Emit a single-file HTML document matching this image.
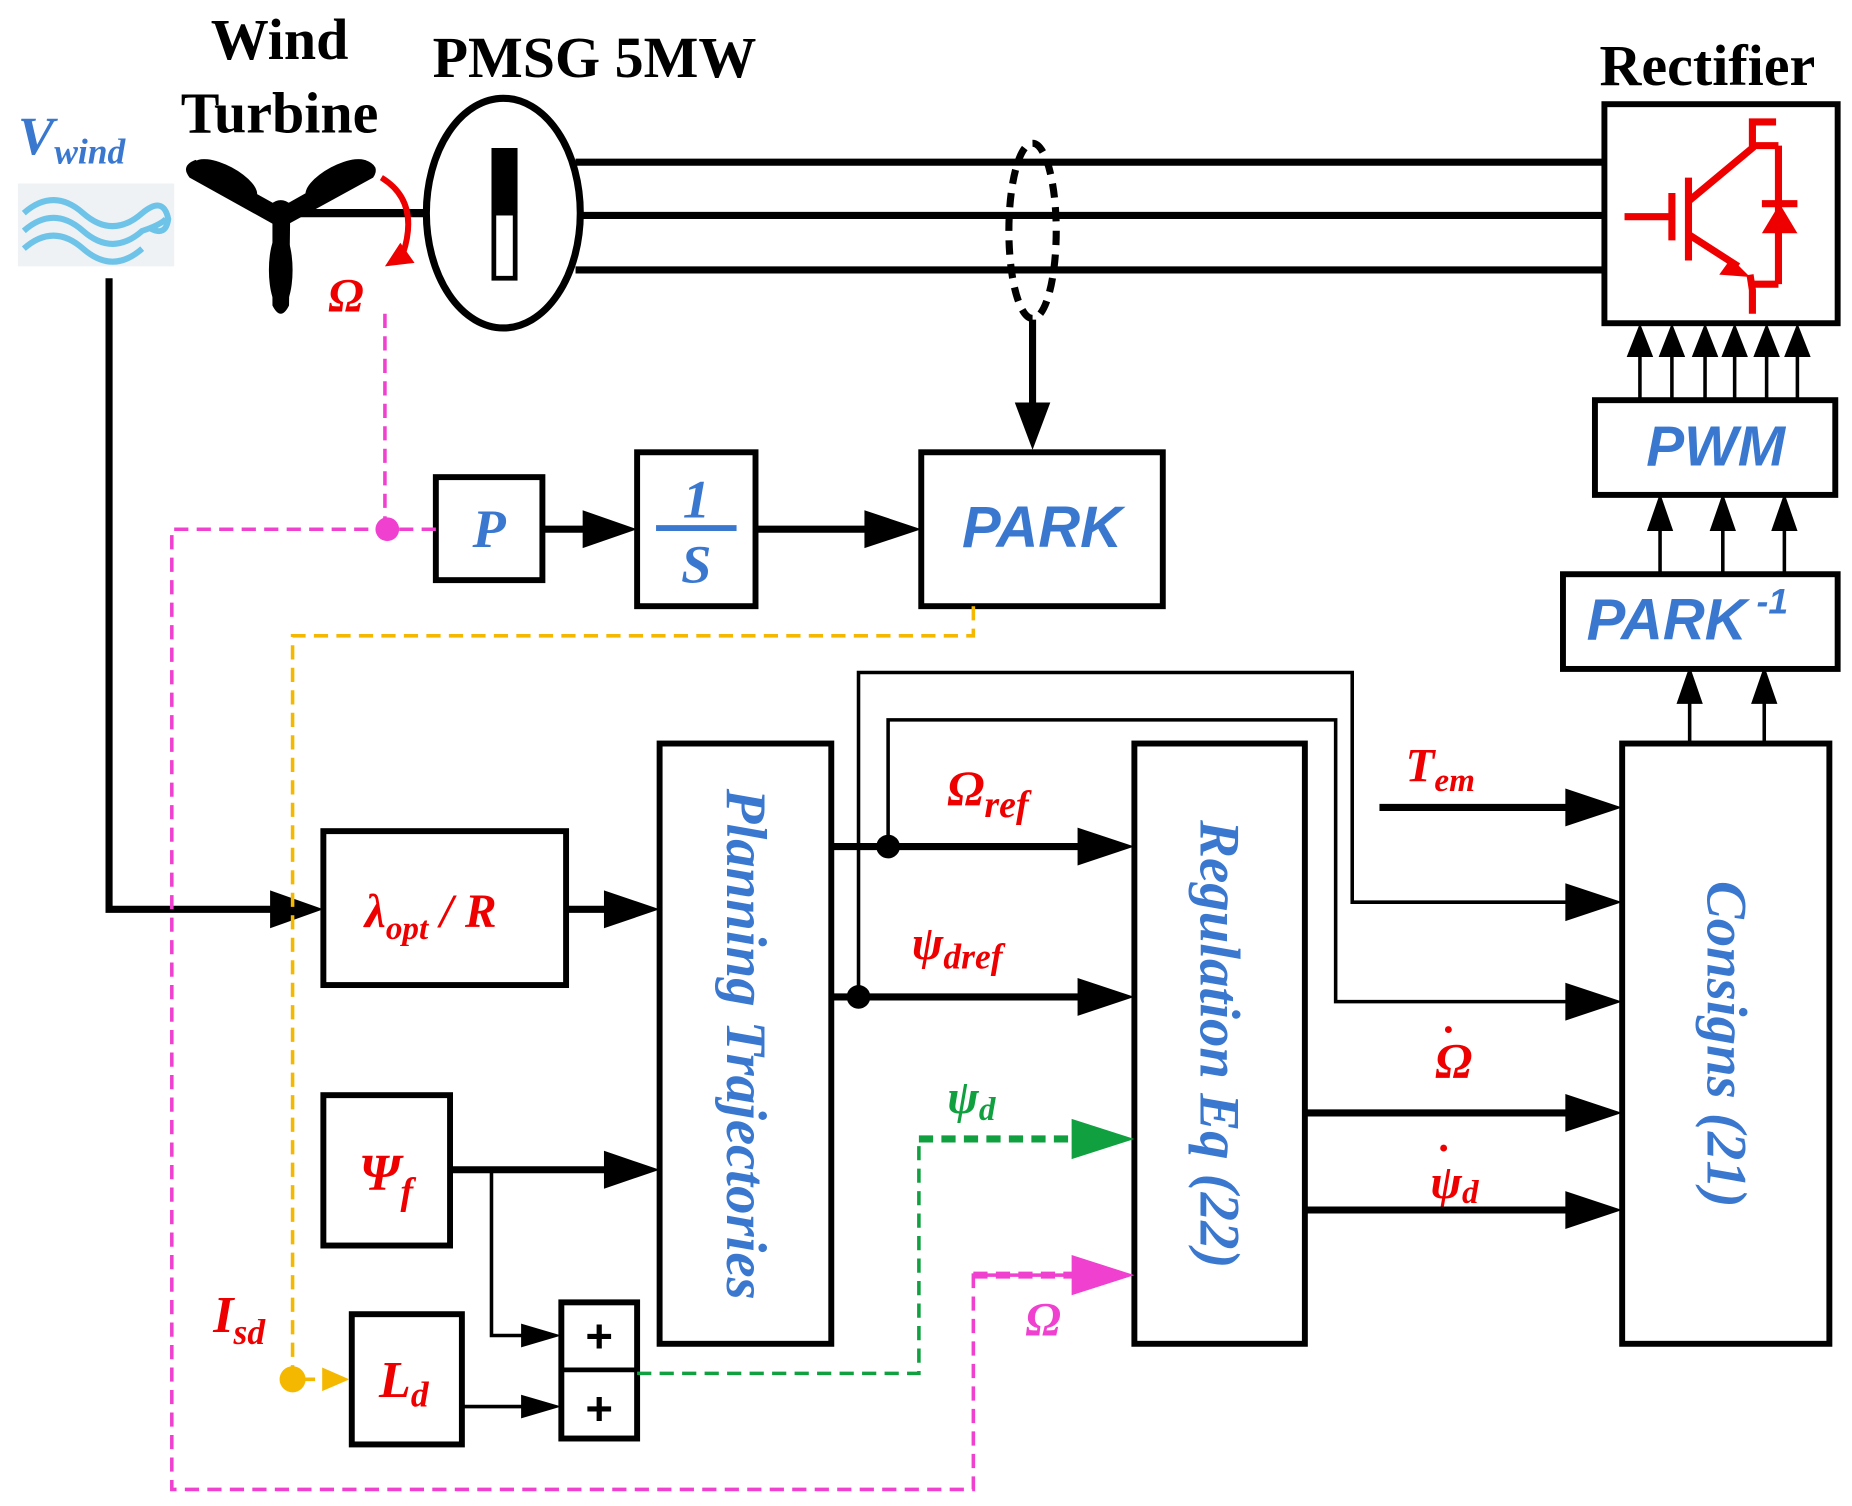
<!DOCTYPE html>
<html><head><meta charset="utf-8"><style>
html,body{margin:0;padding:0;background:#fff;}
svg{display:block;}
</style></head><body>
<svg width="1852" height="1506" viewBox="0 0 1564 1272" xmlns="http://www.w3.org/2000/svg">
<rect width="1564" height="1272" fill="#fff"/>
<g font-family="Liberation Serif, serif" font-weight="bold">
<text x="236" y="50" font-size="49" text-anchor="middle">Wind</text>
<text x="236" y="112" font-size="49" text-anchor="middle">Turbine</text>
<text x="502" y="65" font-size="49" text-anchor="middle">PMSG 5MW</text>
<text x="1442" y="72" font-size="49" text-anchor="middle">Rectifier</text>
</g>
<text x="15" y="130" font-family="Liberation Serif, serif" font-style="italic" font-weight="bold" font-size="46" fill="#3a78d0">V<tspan font-size="30" dy="8">wind</tspan></text>
<rect x="15" y="155" width="132" height="70" fill="#eef2f5"/>
<g fill="none" stroke="#6ec3e8" stroke-width="5">
<path d="M20 180 q25 -22 50 0 t50 0 q18 -15 22 5 q-2 15 -15 8"/>
<path d="M20 195 q25 -22 50 0 t50 0 q15 -5 20 -10"/>
<path d="M20 210 q25 -22 50 0 t50 0"/>
</g>
<!-- turbine -->
<g fill="#000">
<path d="M237 175 L165 135 Q152 140 160 150 L232 190 Z"/>
<ellipse cx="190" cy="152" rx="30" ry="12" transform="rotate(28 190 152)"/>
<path d="M237 175 L308 135 Q322 140 315 150 L242 190 Z"/>
<ellipse cx="285" cy="152" rx="30" ry="12" transform="rotate(-28 285 152)"/>
<path d="M230 180 L230 258 Q237 272 244 258 L245 180 Z"/>
<ellipse cx="237" cy="228" rx="10" ry="32"/>
<circle cx="237" cy="180" r="11"/>
</g>
<line x1="237" y1="180" x2="360" y2="180" stroke="#000" stroke-width="7"/>
<path d="M322 150 Q355 170 340 215" fill="none" stroke="#e00" stroke-width="5"/>
<path d="M325 225 L350 222 L338 205 Z" fill="#e00"/>
<text x="292" y="263" font-family="Liberation Serif, serif" font-style="italic" font-weight="bold" font-size="40" fill="#e00" text-anchor="middle">Ω</text>
<!-- generator -->
<ellipse cx="425" cy="180" rx="65" ry="97" fill="#fff" stroke="#000" stroke-width="6"/>
<rect x="415" y="125" width="22" height="55" fill="#000"/>
<rect x="417" y="180" width="18" height="55" fill="#fff" stroke="#000" stroke-width="4"/>
<g stroke="#000" stroke-width="6">
<line x1="486" y1="137" x2="1355" y2="137"/>
<line x1="490" y1="182" x2="1355" y2="182"/>
<line x1="486" y1="228" x2="1355" y2="228"/>
</g>
<ellipse cx="872" cy="195" rx="20" ry="74" fill="none" stroke="#000" stroke-width="6" stroke-dasharray="12 8"/>
<line x1="872" y1="270" x2="872" y2="345" stroke="#000" stroke-width="6"/>
<path d="M857 340 L887 340 L872 380 Z" fill="#000"/>
<!-- rectifier -->
<rect x="1355" y="88" width="197" height="185" fill="#fff" stroke="#000" stroke-width="5"/>
<g stroke="#e00" stroke-width="6" fill="none">
<line x1="1372" y1="183" x2="1412" y2="183"/>
<line x1="1412" y1="163" x2="1412" y2="203"/>
<line x1="1426" y1="150" x2="1426" y2="220"/>
<polyline points="1426,170 1480,125 1480,103 1500,103"/>
<line x1="1426" y1="198" x2="1468" y2="225"/>
<polyline points="1478,232 1480,245 1480,265"/>
<line x1="1480" y1="123" x2="1502" y2="123"/>
<line x1="1502" y1="123" x2="1502" y2="240"/>
<line x1="1480" y1="240" x2="1502" y2="240"/>
<line x1="1488" y1="172" x2="1518" y2="172"/>
</g>
<path d="M1462 218 L1478 234 L1452 232 Z" fill="#e00"/>
<path d="M1488 197 L1518 197 L1503 172 Z" fill="#e00"/>
<g stroke="#000" stroke-width="3" fill="#000">
<line x1="1385" y1="338" x2="1385" y2="295"/><path d="M1376 300 L1394 300 L1385 277 Z"/>
<line x1="1412" y1="338" x2="1412" y2="295"/><path d="M1403 300 L1421 300 L1412 277 Z"/>
<line x1="1440" y1="338" x2="1440" y2="295"/><path d="M1431 300 L1449 300 L1440 277 Z"/>
<line x1="1465" y1="338" x2="1465" y2="295"/><path d="M1456 300 L1474 300 L1465 277 Z"/>
<line x1="1492" y1="338" x2="1492" y2="295"/><path d="M1483 300 L1501 300 L1492 277 Z"/>
<line x1="1518" y1="338" x2="1518" y2="295"/><path d="M1509 300 L1527 300 L1518 277 Z"/>
<line x1="1402" y1="483" x2="1402" y2="440"/><path d="M1393 447 L1411 447 L1402 421 Z"/>
<line x1="1455" y1="483" x2="1455" y2="440"/><path d="M1446 447 L1464 447 L1455 421 Z"/>
<line x1="1507" y1="483" x2="1507" y2="440"/><path d="M1498 447 L1516 447 L1507 421 Z"/>
<line x1="1427" y1="627" x2="1427" y2="585"/><path d="M1418 593 L1436 593 L1427 567 Z"/>
<line x1="1490" y1="627" x2="1490" y2="585"/><path d="M1481 593 L1499 593 L1490 567 Z"/>
</g>
<g fill="#fff" stroke="#000" stroke-width="5">
<rect x="1347" y="338" width="203" height="80"/>
<rect x="1320" y="485" width="232" height="80"/>
<rect x="1370" y="628" width="175" height="507"/>
<rect x="368" y="403" width="90" height="87"/>
<rect x="538" y="382" width="100" height="130"/>
<rect x="778" y="382" width="204" height="130"/>
<rect x="273" y="702" width="205" height="130"/>
<rect x="557" y="628" width="145" height="507"/>
<rect x="958" y="628" width="144" height="507"/>
<rect x="273" y="925" width="107" height="127"/>
<rect x="297" y="1110" width="93" height="110"/>
<rect x="474" y="1100" width="64" height="115"/>
</g>
<line x1="474" y1="1157" x2="538" y2="1157" stroke="#000" stroke-width="4"/>
<g font-family="Liberation Sans, sans-serif" font-style="italic" font-weight="bold" fill="#3a78d0">
<text x="1449" y="393" font-size="48" text-anchor="middle">PWM</text>
<text x="1340" y="540" font-size="49">PARK<tspan font-size="30" dy="-22"> -1</tspan></text>
<text x="880" y="462" font-size="49" text-anchor="middle">PARK</text>
</g>
<g font-family="Liberation Serif, serif" font-style="italic" font-weight="bold" fill="#3a78d0">
<text x="413" y="462" font-size="46" text-anchor="middle">P</text>
<text x="588" y="437" font-size="46" text-anchor="middle">1</text>
<text x="588" y="492" font-size="46" text-anchor="middle">S</text>
<text transform="translate(614,882) rotate(90)" font-size="48" text-anchor="middle">Planning Trajectories</text>
<text transform="translate(1014,882) rotate(90)" font-size="48" text-anchor="middle">Regulation Eq (22)</text>
<text transform="translate(1442,882) rotate(90)" font-size="48" text-anchor="middle">Consigns (21)</text>
</g>
<line x1="554" y1="446" x2="622" y2="446" stroke="#3a78d0" stroke-width="5"/>
<g font-family="Liberation Serif, serif" font-style="italic" font-weight="bold" fill="#e00">
<text x="308" y="783" font-size="40">λ<tspan font-size="28" dy="10">opt</tspan><tspan dy="-10"> / R</tspan></text>
<text x="303" y="1005" font-size="44">Ψ<tspan font-size="32" dy="12">f</tspan></text>
<text x="320" y="1180" font-size="44">L<tspan font-size="30" dy="8">d</tspan></text>
<text x="180" y="1125" font-size="44">I<tspan font-size="30" dy="10">sd</tspan></text>
<text x="800" y="680" font-size="42">Ω<tspan font-size="32" dy="10">ref</tspan></text>
<text x="770" y="810" font-size="40">ψ<tspan font-size="30" dy="8">dref</tspan></text>
<text x="1187" y="660" font-size="40">T<tspan font-size="28" dy="8">em</tspan></text>
<text x="1212" y="910" font-size="42">Ω</text>
<text x="1220" y="872" font-size="36">.</text>
<text x="1208" y="1012" font-size="40">ψ<tspan font-size="28" dy="4">d</tspan></text>
<text x="1216" y="972" font-size="36">.</text>
</g>
<text x="800" y="940" font-family="Liberation Serif, serif" font-style="italic" font-weight="bold" font-size="40" fill="#10a040">ψ<tspan font-size="28" dy="6">d</tspan></text>
<text x="866" y="1128" font-family="Liberation Serif, serif" font-style="italic" font-weight="bold" font-size="40" fill="#f040d0">Ω</text>
<g font-family="Liberation Sans, sans-serif" font-size="40" font-weight="bold" text-anchor="middle">
<text x="506" y="1142">+</text><text x="506" y="1203">+</text>
</g>
<g stroke="#000" stroke-width="6" fill="none">
<polyline points="92,235 92,768 240,768"/>
<line x1="458" y1="447" x2="505" y2="447"/>
<line x1="638" y1="447" x2="740" y2="447"/>
<line x1="478" y1="768" x2="520" y2="768"/>
<line x1="702" y1="715" x2="920" y2="715"/>
<line x1="702" y1="842" x2="920" y2="842"/>
<line x1="380" y1="988" x2="520" y2="988"/>
<line x1="1165" y1="682" x2="1332" y2="682"/>
<line x1="1102" y1="940" x2="1332" y2="940"/>
<line x1="1102" y1="1022" x2="1332" y2="1022"/>
</g>
<g stroke="#000" stroke-width="3" fill="none">
<polyline points="725,842 725,568 1142,568 1142,762 1335,762"/>
<polyline points="750,715 750,608 1128,608 1128,846 1335,846"/>
<polyline points="415,988 415,1128 445,1128"/>
<line x1="390" y1="1188" x2="445" y2="1188"/>
</g>
<g fill="#000">
<path d="M228 752 L273 768 L228 784 Z"/>
<path d="M492 431 L538 447 L492 463 Z"/>
<path d="M730 431 L778 447 L730 463 Z"/>
<path d="M510 752 L557 768 L510 784 Z"/>
<path d="M910 699 L958 715 L910 731 Z"/>
<path d="M910 826 L958 842 L910 858 Z"/>
<path d="M510 972 L557 988 L510 1004 Z"/>
<path d="M1322 666 L1370 682 L1322 698 Z"/>
<path d="M1322 746 L1370 762 L1322 778 Z"/>
<path d="M1322 830 L1370 846 L1322 862 Z"/>
<path d="M1322 924 L1370 940 L1322 956 Z"/>
<path d="M1322 1006 L1370 1022 L1322 1038 Z"/>
<path d="M440 1118 L474 1128 L440 1138 Z"/>
<path d="M440 1178 L474 1188 L440 1198 Z"/>
<circle cx="750" cy="715" r="10"/>
<circle cx="725" cy="842" r="10"/>
</g>
<g fill="none" stroke-width="3" stroke-dasharray="12 7">
<polyline stroke="#f040d0" points="325,265 325,447"/>
<polyline stroke="#f040d0" points="368,447 145,447 145,1258 822,1258 822,1077 915,1077"/>
<polyline stroke="#f5b800" points="822,512 822,537 247,537 247,1165 280,1165"/>
<polyline stroke="#10a040" points="538,1160 776,1160 776,962"/>
</g>
<line x1="776" y1="962" x2="915" y2="962" stroke="#10a040" stroke-width="6" stroke-dasharray="12 7"/>
<line x1="822" y1="1077" x2="915" y2="1077" stroke="#f040d0" stroke-width="6" stroke-dasharray="12 7"/>
<circle cx="327" cy="447" r="10" fill="#f040d0"/>
<path d="M905 1060 L958 1077 L905 1094 Z" fill="#f040d0"/>
<path d="M905 945 L958 962 L905 979 Z" fill="#10a040"/>
<circle cx="247" cy="1165" r="11" fill="#f5b800"/>
<path d="M272 1155 L295 1165 L272 1175 Z" fill="#f5b800"/>
</svg>
</body></html>
